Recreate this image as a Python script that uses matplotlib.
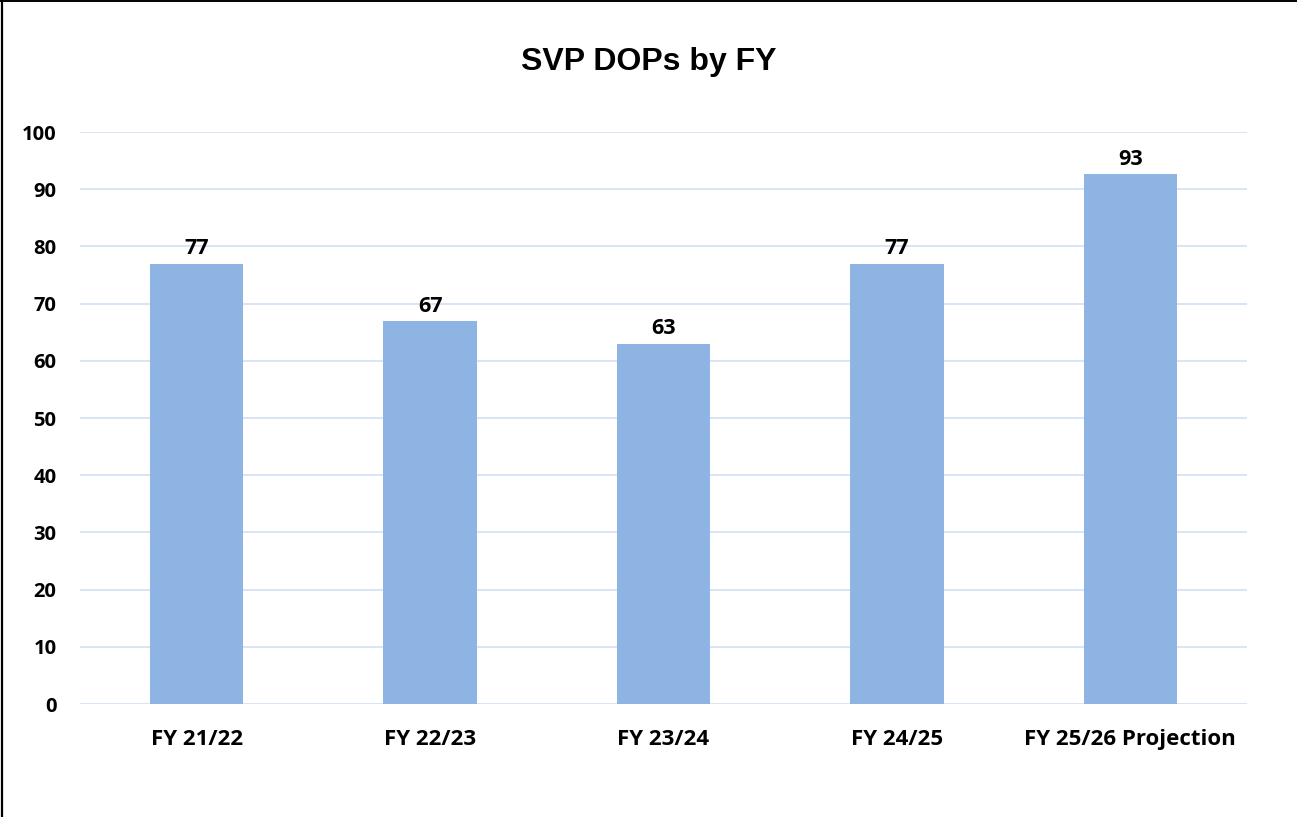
import matplotlib
matplotlib.use("Agg")
import matplotlib.pyplot as plt
from matplotlib.lines import Line2D

categories = ["FY 21/22", "FY 22/23", "FY 23/24", "FY 24/25", "FY 25/26 Projection"]
values = [77, 67, 63, 77, 92.6]
labels = ["77", "67", "63", "77", "93"]
yticks = [0, 10, 20, 30, 40, 50, 60, 70, 80, 90, 100]

W, H, DPI = 1297, 817, 100
fig = plt.figure(figsize=(W / DPI, H / DPI), dpi=DPI)
ax = fig.add_axes([80 / W, 1 - 704 / H, (1247 - 80) / W, (704 - 132) / H])

FAM = "Open Sans"
x = list(range(len(categories)))
ax.bar(x, values, width=0.4, color="#8EB4E3", zorder=2)
for xi, v, lab in zip(x, values, labels):
    ax.annotate(lab, (xi, v), xytext=(0, 3), textcoords="offset points",
                ha="center", va="bottom", fontsize=15.5, fontweight="bold",
                family=FAM, color="black")

ax.set_xlim(-0.5, len(categories) - 0.5)
ax.set_ylim(0, 100)
ax.set_yticks(yticks)
ax.set_yticklabels([str(t) for t in yticks], fontsize=14.5, fontweight="bold", family=FAM)
ax.set_xticks(x)
ax.set_xticklabels(categories, fontsize=16, fontweight="bold", family=FAM)
ax.tick_params(axis="both", length=0)
ax.tick_params(axis="y", pad=17)
ax.tick_params(axis="x", pad=18)
ax.grid(axis="y", color="#D6E3F5", linewidth=1.3, zorder=0)
for s in ax.spines.values():
    s.set_visible(False)

fig.text(0.5, 1 - 62 / H, "SVP DOPs by FY", ha="center", va="center",
         fontsize=23, fontweight="bold", family="Liberation Sans")

fig.add_artist(Line2D([1.5 / W, 1.5 / W], [0, 1], transform=fig.transFigure, color="black", linewidth=1.6))
fig.add_artist(Line2D([0, 1296 / W], [1 - 0.8 / H, 1 - 0.8 / H], transform=fig.transFigure, color="black", linewidth=1.4))

fig.savefig("out.png", dpi=DPI, facecolor="white")
